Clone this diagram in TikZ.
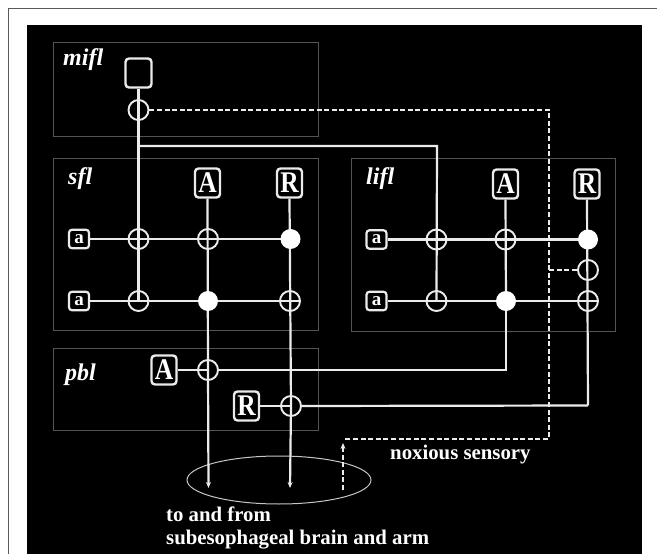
\documentclass[tikz,border=0pt]{standalone}
\usepackage{fontspec}
\setmainfont{Liberation Serif}
\newfontfamily\narrowserif[FakeStretch=0.85]{Liberation Serif}
\usetikzlibrary{arrows.meta,calc}
\definecolor{wire}{gray}{0.92}
\definecolor{regionline}{gray}{0.33}
\tikzset{
  x=1pt,y=-1pt,
  region/.style={draw=regionline,line width=0.9pt},
  wireline/.style={draw=wire,line width=2.2pt},
  dashwire/.style={draw=wire,line width=2.4pt,dash pattern=on 5pt off 2.6pt},
  open/.style={circle,draw=wire,line width=1.9pt,minimum size=20pt,inner sep=0pt},
  solidj/.style={circle,minimum size=20pt,inner sep=0pt},
  bigbox/.style={draw=wire,line width=2.4pt,rounded corners=3.5pt,text=white,inner sep=0pt,minimum width=25pt,minimum height=29pt,font=\narrowserif\fontsize{30}{30}\selectfont\bfseries},
  smallbox/.style={draw=wire,line width=2.2pt,rounded corners=3pt,text=white,inner sep=0pt,minimum width=20pt,minimum height=18.5pt,font=\fontsize{19}{19}\selectfont\bfseries},
  regionlabel/.style={text=white,anchor=west,inner sep=0pt,font=\fontsize{24}{24}\selectfont\bfseries\itshape},
  caption/.style={text=white,anchor=west,inner sep=0pt,font=\fontsize{20.8}{21}\selectfont\bfseries},
  tip/.style={-{Stealth[length=6pt,width=5pt]}}
}
\begin{document}
\begin{tikzpicture}
\useasboundingbox (0,0) rectangle (657,554);
\fill[white] (0,0) rectangle (657,554);
\draw[gray!70!black,line width=1.2pt] (8.5,554) -- (8.5,8.5) -- (657,8.5);
\fill[black] (27,25) rectangle (642,554);
% regions
\draw[region] (53,42) rectangle (318,136);
\draw[region] (53,158) rectangle (318,330);
\draw[region] (351,158) rectangle (615.5,331);
\draw[region] (53,348) rectangle (318,430);
\draw[draw=gray!45,line width=1pt] (279,480) ellipse [x radius=92,y radius=24];
% labels
\node[regionlabel] (lmifl) at (63,60) {mifl};
\node[regionlabel] (lsfl) at (68,179) {sfl};
\node[regionlabel] (llifl) at (366,179) {lifl};
\node[regionlabel] (lpbl) at (65,375) {pbl};
\node[caption] (nox) at (390,455) {noxious sensory};
\node[caption] (ta) at (166,514) {to and from};
\node[caption] (tb) at (166,540) {subesophageal brain and arm};
% boxes
\node[bigbox,minimum width=26pt] (m) at (138.5,73) {};
\node[bigbox] (sA) at (207.5,183) {A};
\node[bigbox] (sR) at (289.5,183) {R};
\node[bigbox] (lA) at (505.5,184) {A};
\node[bigbox] (lR) at (587,184) {R};
\node[bigbox] (pA) at (164,370) {A};
\node[bigbox] (pR) at (246.5,406) {R};
\node[smallbox] (sa1) at (79,239) {a};
\node[smallbox] (sa2) at (79,301) {a};
\node[smallbox] (la1) at (376.5,239.5) {a};
\node[smallbox] (la2) at (376.5,301) {a};
% junctions
\node[open] (mj) at (138.5,110) {};
\node[open] (s11) at (138.5,239) {};
\node[open] (s12) at (208,239) {};
\node[solidj] (s13) at (290.5,239) {};
\node[open] (s21) at (138.5,301) {};
\node[solidj] (s22) at (208,301) {};
\node[open] (s23) at (290,301) {};
\node[open] (l11) at (436.5,239.5) {};
\node[open] (l12) at (505.5,239.5) {};
\node[solidj] (l13) at (588,239.5) {};
\node[open] (lm) at (588,270) {};
\node[open] (l21) at (436.5,301) {};
\node[solidj] (l22) at (506,301) {};
\node[open] (l23) at (588,301) {};
\node[open] (p1) at (208,370) {};
\node[open] (p2) at (291,406) {};
% free points
\coordinate (b1) at (138.5,146);
\coordinate (b2) at (437,146);
\coordinate (c1) at (506,370);
\coordinate (c2) at (588,405.5);
\coordinate (dn1) at (208.5,488);
\coordinate (dn2) at (290,488);
\coordinate (d1) at (549,110);
\coordinate (d2) at (549,439);
\coordinate (d3) at (343,439);
\coordinate (d4) at (343,443);
\coordinate (d5) at (343,490);
\coordinate (d6) at (549,270);
% solid wires
\draw[wireline] (m.south) -- (s21.center);
\draw[wireline] (b1) -- (b2) -- (l21.center);
\draw[wireline] (sa1.east) -- (s13.center);
\draw[wireline] (sa2.east) -- (s23.east);
\draw[wireline] (la1.east) -- (l13.center);
\draw[wireline] (la2.east) -- (l23.east);
\draw[wireline] (sA.south) -- (p1.center);
\draw[wireline,tip] (p1.center) -- (dn1);
\draw[wireline] (sR.south) -- (p2.center);
\draw[wireline,tip] (p2.center) -- (dn2);
\draw[wireline] (lA.south) -- (l22.center);
\draw[wireline] (lR.south) -- (c2);
\draw[wireline] (pA.east) -- (p1.center);
\draw[wireline] (pR.east) -- (p2.center);
\draw[wireline] (p1.east) -- (c1) -- (l22.center);
\draw[wireline] (p2.east) -- (c2);
% dashed wires
\draw[dashwire] (mj.east) -- (d1) -- (d2) -- (d3);
\draw[dashwire] (d6) -- (lm.west);
\draw[dashwire,tip] (d5) -- (d4);
% filled junction discs above the wires
\fill[white] (s13.center) circle (10);
\fill[white] (s22.center) circle (10);
\fill[white] (l13.center) circle (10);
\fill[white] (l22.center) circle (10);
\end{tikzpicture}
\end{document}
